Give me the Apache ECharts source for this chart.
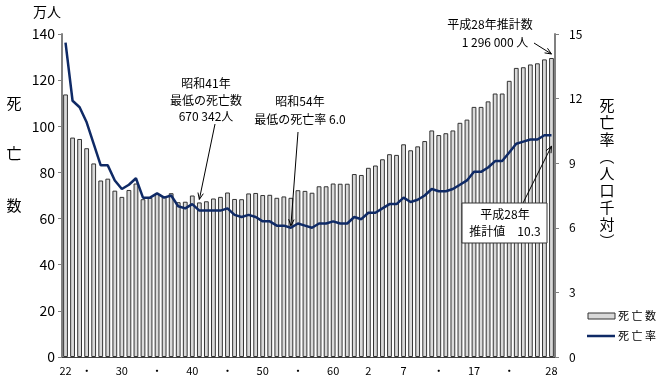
<!DOCTYPE html>
<html><head><meta charset="utf-8">
<script src="https://cdn.jsdelivr.net/npm/echarts@6/dist/echarts.min.js"></script>
<style>html,body{margin:0;padding:0;background:#fff}#c{width:659px;height:389px}</style>
</head><body><div id="c"></div>
<script>
// 年次（昭和22年〜昭和63年、平成元年〜平成28年）
const categories = ['22','23','24','25','26','27','28','29','30','31','32','33','34','35','36','37','38','39','40','41','42','43','44','45','46','47','48','49','50','51','52','53','54','55','56','57','58','59','60','61','62','63',
  '元','2','3','4','5','6','7','8','9','10','11','12','13','14','15','16','17','18','19','20','21','22','23','24','25','26','27','28'];
// 表示する目盛ラベル（インデックス: ラベル）
const tickLabels = {0:'22',3:'・',8:'30',13:'・',18:'40',23:'・',28:'50',33:'・',38:'60',43:'2',48:'7',53:'・',58:'17',63:'・',69:'28'};
// 死亡数（万人）
const deaths = [113.8,95.1,94.5,90.5,83.9,76.5,77.3,72.1,69.4,72.4,75.2,68.4,69.0,70.7,69.6,71.0,67.1,67.3,70.0,67.0,67.5,68.7,69.4,71.3,68.5,68.4,70.9,71.1,70.2,70.3,69.0,69.6,69.0,72.3,72.0,71.2,74.0,74.0,75.2,75.1,75.1,79.3,78.9,82.0,83.0,85.7,87.9,87.6,92.2,89.6,91.3,93.6,98.2,96.2,97.0,98.2,101.5,102.9,108.4,108.4,110.8,114.2,114.2,119.7,125.3,125.6,126.8,127.3,129.0,129.6];
// 死亡率（人口千対）
const rates = [14.6,11.9,11.6,10.9,9.9,8.9,8.9,8.2,7.8,8.0,8.3,7.4,7.4,7.6,7.4,7.5,7.0,6.9,7.1,6.8,6.8,6.8,6.8,6.9,6.6,6.5,6.6,6.5,6.3,6.3,6.1,6.1,6.0,6.2,6.1,6.0,6.2,6.2,6.3,6.2,6.2,6.5,6.4,6.7,6.7,6.9,7.1,7.1,7.4,7.2,7.3,7.5,7.8,7.7,7.7,7.8,8.0,8.2,8.6,8.6,8.8,9.1,9.1,9.5,9.9,10.0,10.1,10.1,10.3,10.3];
const leftTicks = [0,20,40,60,80,100,120,140];
const rightTicks = [0,3,6,9,12,15];

const FONT = '"Noto Sans CJK JP", sans-serif';
const BAR_FILL = '#d9d9d9', BAR_BORDER = '#333', LINE_COLOR = '#0f2a66';
const chart = echarts.init(document.getElementById('c'), null, {renderer:'canvas'});
const option = {
  animation:false,
  textStyle:{fontFamily:FONT},
  grid:{left:62,right:104,top:34,bottom:32},
  xAxis:{
    type:'category', data:categories,
    axisLine:{lineStyle:{color:'#404040',width:1}},
    axisTick:{show:false},
    axisLabel:{interval:0,fontSize:11,color:'#000',margin:8,
      formatter:(v,i)=> tickLabels[i]!==undefined ? tickLabels[i] : ''}
  },
  yAxis:[
    {type:'value',min:leftTicks[0],max:leftTicks[leftTicks.length-1],interval:20,
      axisLine:{show:true,lineStyle:{color:'#808080',width:2}},
      axisTick:{show:true,length:4,lineStyle:{color:'#808080'}},
      splitLine:{show:false},
      axisLabel:{fontSize:14,color:'#000',margin:7}},
    {type:'value',min:rightTicks[0],max:rightTicks[rightTicks.length-1],interval:3,position:'right',
      axisLine:{show:true,lineStyle:{color:'#808080',width:2}},
      axisTick:{show:true,length:4,lineStyle:{color:'#808080'}},
      splitLine:{show:false},
      axisLabel:{fontSize:12,color:'#000',margin:14}}
  ],
  series:[
    {name:'死 亡 数',type:'bar',data:deaths,yAxisIndex:0,barCategoryGap:'32%',
      itemStyle:{color:BAR_FILL,borderColor:BAR_BORDER,borderWidth:1}},
    {name:'死 亡 率',type:'line',data:rates,yAxisIndex:1,symbol:'none',smooth:false,
      lineStyle:{color:LINE_COLOR,width:2.5},itemStyle:{color:LINE_COLOR},z:5}
  ]
};
chart.setOption(option);

function arrow(x1,y1,x2,y2){
  const a=Math.atan2(y2-y1,x2-x1), L=7, w=0.4;
  return [
    {type:'line',shape:{x1,y1,x2,y2},style:{stroke:'#000',lineWidth:1},z:20},
    {type:'polyline',shape:{points:[[x2-L*Math.cos(a-w),y2-L*Math.sin(a-w)],[x2,y2],[x2-L*Math.cos(a+w),y2-L*Math.sin(a+w)]]},style:{stroke:'#000',fill:null,lineWidth:1},z:20}
  ];
}
const pBar41 = chart.convertToPixel({seriesIndex:0},[19,deaths[19]]);
const pRate54 = chart.convertToPixel({seriesIndex:1},[32,rates[32]]);
const pBar28 = chart.convertToPixel({seriesIndex:0},[69,deaths[69]]);
const pRate28 = chart.convertToPixel({seriesIndex:1},[69,rates[69]]);

const txt=(x,y,t,size,align)=>({type:'text',x,y,z:30,style:{text:t,font:(size||12)+'px '+FONT,fill:'#000',align:align||'center',verticalAlign:'middle'}});
const graphics = [
  txt(47,12,'万人',14),
  txt(14,103,'死',15), txt(14,153,'亡',15), txt(14,205,'数',15),
  {type:'text',x:607,y:97,z:30,style:{text:'死\n亡\n率\n︵\n人\n口\n千\n対\n︶',font:'15px '+FONT,lineHeight:17,fill:'#000',align:'center',verticalAlign:'top'}},
  txt(206,83,'昭和41年'), txt(206,100,'最低の死亡数'), txt(206,116,'670 342人'),
  ...arrow(215,124,pBar41[0],pBar41[1]-3),
  txt(300,101,'昭和54年'), txt(300,119,'最低の死亡率 6.0'),
  ...arrow(298,132,pRate54[0],pRate54[1]-2),
  txt(490,24,'平成28年推計数'), txt(495,42,'1 296 000 人'),
  ...arrow(534,43,pBar28[0],pBar28[1]-4),
  {type:'rect',shape:{x:462,y:203,width:85,height:40},style:{fill:'#fff',stroke:'#333',lineWidth:1},z:25},
  txt(505,214,'平成28年'), txt(505,231,'推計値　10.3'),
  ...arrow(523,203,pRate28[0],pRate28[1]+11),
  // 凡例
  {type:'rect',shape:{x:588,y:313,width:27,height:6},style:{fill:BAR_FILL,stroke:BAR_BORDER,lineWidth:1},z:30},
  txt(618,316,'死 亡 数',11,'left'),
  {type:'line',shape:{x1:587,y1:336,x2:615,y2:336},style:{stroke:LINE_COLOR,lineWidth:2.5},z:30},
  txt(618,336,'死 亡 率',11,'left')
];
chart.setOption({graphic:graphics});
</script></body></html>
